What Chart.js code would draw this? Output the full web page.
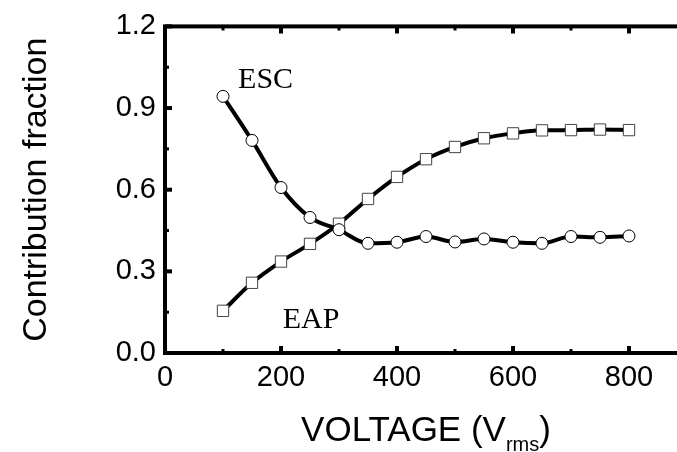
<!DOCTYPE html>
<html>
<head>
<meta charset="utf-8">
<script src="https://cdn.jsdelivr.net/npm/chart.js@4.4.1/dist/chart.umd.min.js"></script>
<style>
  html, body { margin: 0; padding: 0; background: #fff; overflow: hidden; }
  #wrap { width: 700px; height: 452px; }
</style>
</head>
<body>
<div id="wrap"><canvas id="chart" width="700" height="452"></canvas></div>
<script>
// datos
const voltage = [100, 150, 200, 250, 300, 350, 400, 450, 500, 550, 600, 650, 700, 750, 800];
const esc = [0.943, 0.781, 0.608, 0.498, 0.453, 0.403, 0.407, 0.428, 0.408, 0.419, 0.407, 0.403, 0.428, 0.425, 0.430];
const eap = [0.155, 0.258, 0.336, 0.401, 0.475, 0.566, 0.647, 0.712, 0.757, 0.789, 0.807, 0.818, 0.819, 0.821, 0.819];

const seriesNames = ['ESC', 'EAP'];
// etiquetas dentro del grafico, en unidades de datos [x, y]
const seriesLabelPos = [[126, 0.975], [203, 0.091]];

const xTicksMajor = [0, 200, 400, 600, 800];
const yTicksMajor = [0.0, 0.3, 0.6, 0.9, 1.2];

const sansFont = 'Liberation Sans, Arial, sans-serif';

// ejes con marcas hacia dentro, titulo X con subindice y etiquetas ESC / EAP
const framePlugin = {
    id: 'frame',
    afterDraw(chart) {
        const ctx = chart.ctx;
        const a = chart.chartArea;
        const xs = chart.scales.x;
        const ys = chart.scales.y;
        ctx.save();
        ctx.strokeStyle = '#000';
        ctx.lineWidth = 4;
        ctx.strokeRect(a.left, a.top, a.right - a.left, a.bottom - a.top);

        // marcas en X (abajo y arriba)
        for (let v = 0; v <= 900; v += 100) {
            const px = xs.getPixelForValue(v);
            const major = v % 200 === 0;
            const len = major ? 7 : 4;
            ctx.lineWidth = major ? 4 : 3;
            ctx.beginPath();
            ctx.moveTo(px, a.bottom);
            ctx.lineTo(px, a.bottom - len);
            ctx.moveTo(px, a.top);
            ctx.lineTo(px, a.top + len);
            ctx.stroke();
        }
        // marcas en Y
        for (let i = 0; i <= 8; i++) {
            const v = i * 0.15;
            const py = ys.getPixelForValue(v);
            const major = i % 2 === 0;
            const len = major ? 7 : 4;
            ctx.lineWidth = major ? 4 : 3;
            ctx.beginPath();
            ctx.moveTo(a.left, py);
            ctx.lineTo(a.left + len, py);
            ctx.stroke();
        }

        // titulo del eje X
        ctx.fillStyle = '#000';
        ctx.textBaseline = 'alphabetic';
        const big = '35px ' + sansFont;
        const small = '20px ' + sansFont;
        const p1 = 'VOLTAGE (V', p2 = 'rms', p3 = ')';
        ctx.font = big;
        const w1 = ctx.measureText(p1).width;
        const w3 = ctx.measureText(p3).width;
        ctx.font = small;
        const w2 = ctx.measureText(p2).width;
        const total = w1 + w2 + w3;
        let x0 = (a.left + a.right) / 2 - total / 2;
        const base = 441;
        ctx.font = big;
        ctx.fillText(p1, x0, base);
        ctx.font = small;
        ctx.fillText(p2, x0 + w1, base + 10);
        ctx.font = big;
        ctx.fillText(p3, x0 + w1 + w2, base);

        // etiquetas de series
        ctx.font = '30px Liberation Serif, Times New Roman, serif';
        ctx.textAlign = 'left';
        seriesNames.forEach((name, i) => {
            const px = xs.getPixelForValue(seriesLabelPos[i][0]);
            const py = ys.getPixelForValue(seriesLabelPos[i][1]);
            ctx.fillText(name, px, py);
        });
        ctx.restore();
    }
};

const ctx = document.getElementById('chart').getContext('2d');
const chart = new Chart(ctx, {
    type: 'line',
    data: {
        datasets: [{
            label: 'ESC',
            data: voltage.map((v, i) => ({ x: v, y: esc[i] })),
            borderColor: '#000',
            borderWidth: 4,
            cubicInterpolationMode: 'monotone',
            pointStyle: 'circle',
            pointRadius: 6,
            pointBackgroundColor: '#fff',
            pointBorderColor: '#000',
            pointBorderWidth: 1
        }, {
            label: 'EAP',
            data: voltage.map((v, i) => ({ x: v, y: eap[i] })),
            borderColor: '#000',
            borderWidth: 4,
            cubicInterpolationMode: 'monotone',
            pointStyle: 'rect',
            pointRadius: 8,
            pointBackgroundColor: '#fff',
            pointBorderColor: '#444',
            pointBorderWidth: 1
        }]
    },
    options: {
        responsive: false,
        animation: false,
        devicePixelRatio: 1,
        layout: { padding: { left: 0, top: 25, right: 13, bottom: 0 } },
        plugins: {
            legend: { display: false },
            tooltip: { enabled: false }
        },
        scales: {
            x: {
                type: 'linear',
                min: 0,
                max: 900,
                grid: { display: false, drawTicks: false },
                border: { display: false },
                afterBuildTicks: (scale) => {
                    scale.ticks = xTicksMajor.map(v => ({ value: v }));
                },
                ticks: {
                    color: '#000',
                    padding: 8,
                    maxRotation: 0,
                    font: { family: sansFont, size: 29 }
                },
                afterFit: (scale) => { scale.height = 99; }
            },
            y: {
                min: 0,
                max: 1.2,
                grid: { display: false, drawTicks: false },
                border: { display: false },
                afterBuildTicks: (scale) => {
                    scale.ticks = yTicksMajor.map(v => ({ value: v }));
                },
                ticks: {
                    color: '#000',
                    padding: 9,
                    font: { family: sansFont, size: 29 },
                    callback: (v) => Number(v).toFixed(1)
                },
                title: {
                    display: true,
                    text: 'Contribution fraction',
                    color: '#000',
                    font: { family: sansFont, size: 34 },
                    padding: { top: 16, bottom: 0 }
                },
                afterFit: (scale) => { scale.width = 165; }
            }
        }
    },
    plugins: [framePlugin]
});
</script>
</body>
</html>
